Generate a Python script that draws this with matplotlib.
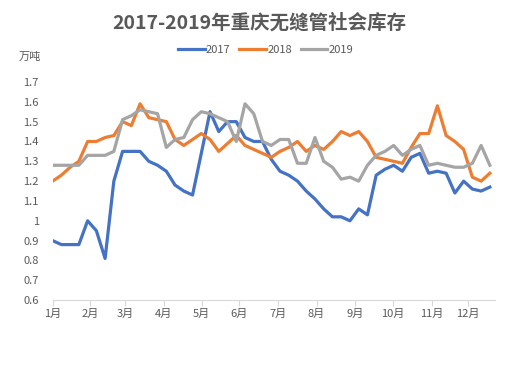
import matplotlib
matplotlib.use("Agg")
import matplotlib.pyplot as plt
from matplotlib.ticker import FormatStrFormatter, FuncFormatter

plt.rcParams['font.family'] = ['Noto Sans CJK SC', 'DejaVu Sans']

# weekly stock, 10k tonnes
stock_2017 = [0.90, 0.88, 0.88, 0.88, 1.00, 0.95, 0.81, 1.20, 1.35, 1.35,
              1.35, 1.30, 1.28, 1.25, 1.18, 1.15, 1.13, 1.34, 1.55, 1.45,
              1.50, 1.50, 1.42, 1.40, 1.40, 1.31, 1.25, 1.23, 1.20, 1.15,
              1.11, 1.06, 1.02, 1.02, 1.00, 1.06, 1.03, 1.23, 1.26, 1.28,
              1.25, 1.32, 1.34, 1.24, 1.25, 1.24, 1.14, 1.20, 1.16, 1.15,
              1.17]
stock_2018 = [1.20, 1.23, 1.27, 1.30, 1.40, 1.40, 1.42, 1.43, 1.50, 1.48,
              1.59, 1.52, 1.51, 1.50, 1.41, 1.38, 1.41, 1.44, 1.41, 1.35,
              1.39, 1.43, 1.38, 1.36, 1.34, 1.32, 1.35, 1.37, 1.40, 1.35,
              1.38, 1.36, 1.40, 1.45, 1.43, 1.45, 1.40, 1.32, 1.31, 1.30,
              1.29, 1.37, 1.44, 1.44, 1.58, 1.43, 1.40, 1.36, 1.22, 1.20,
              1.24]
stock_2019 = [1.28, 1.28, 1.28, 1.28, 1.33, 1.33, 1.33, 1.35, 1.51, 1.53,
              1.56, 1.55, 1.54, 1.37, 1.41, 1.42, 1.51, 1.55, 1.54, 1.52,
              1.50, 1.40, 1.59, 1.54, 1.40, 1.38, 1.41, 1.41, 1.29, 1.29,
              1.42, 1.30, 1.27, 1.21, 1.22, 1.20, 1.28, 1.33, 1.35, 1.38,
              1.33, 1.36, 1.38, 1.28, 1.29, 1.28, 1.27, 1.27, 1.29, 1.38,
              1.28]
series_names = ['2017', '2018', '2019']
month_labels = ['1月', '2月', '3月', '4月', '5月', '6月',
                '7月', '8月', '9月', '10月', '11月', '12月']
month_pos = [0, 4.26, 8.3, 12.72, 17.04, 21.33, 25.73, 30.18, 34.6, 38.875, 43.33, 47.52]

colors = ['#4472C4', '#ED7D31', '#A5A5A5']
txt = '#595959'

fig = plt.figure(figsize=(5.16, 3.66), dpi=100)
ax = fig.add_axes([0.102, 0.180, 0.857, 0.596])

weeks = range(len(stock_2017))
for ys, name, c in zip([stock_2017, stock_2018, stock_2019], series_names, colors):
    ax.plot(weeks, ys, color=c, lw=2.3, label=name, solid_joinstyle='round')

ax.set_xlim(0, 50.57)
ax.set_ylim(0.6, 1.7)
ax.set_yticks([0.6 + 0.1 * k for k in range(12)])
ax.yaxis.set_major_formatter(FuncFormatter(lambda v, p: '%g' % round(v, 1)))
ax.set_xticks(month_pos)
ax.set_xticklabels(month_labels)

for s in ['top', 'right', 'left']:
    ax.spines[s].set_visible(False)
ax.spines['bottom'].set_color('#d9d9d9')
ax.tick_params(axis='y', length=0, labelsize=8, labelcolor=txt, pad=10)
ax.tick_params(axis='x', length=4, color='#d9d9d9', labelsize=8, labelcolor=txt, pad=2)

fig.text(0.502, 0.937, '2017-2019年重庆无缝管社会库存', ha='center', va='center',
         fontsize=14, fontweight='bold', color=txt)
fig.text(0.058, 0.844, '万吨', ha='center', va='center', fontsize=8, color=txt)

fig.legend(loc='center', bbox_to_anchor=(0.515, 0.863), ncol=3, frameon=False,
           fontsize=8, labelcolor=txt, handlelength=2.4, handletextpad=0.1,
           columnspacing=0.8)

fig.savefig('out.png', dpi=100)
